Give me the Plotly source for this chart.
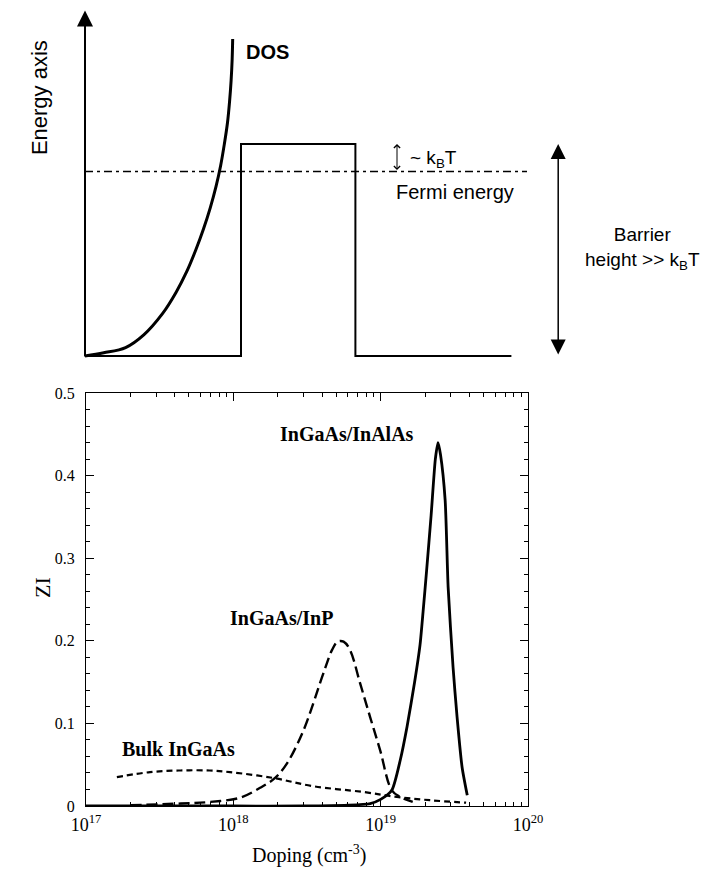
import plotly.graph_objects as go

# ---------------- bottom chart data ----------------
inalas_doping = [1.0e17, 1.0e18, 3.0e18, 6.0e18, 8.5e18, 1.0e19, 1.19e19, 1.36e19, 1.51e19, 1.70e19, 1.85e19,
                 1.94e19, 2.05e19, 2.20e19, 2.35e19, 2.45e19, 2.55e19, 2.74e19, 2.87e19,
                 3.10e19, 3.30e19, 3.57e19, 3.87e19]
inalas_zi = [0.0, 0.0, 0.0, 0.001, 0.003, 0.008, 0.019, 0.056, 0.096, 0.150, 0.195,
             0.235, 0.285, 0.352, 0.420, 0.440, 0.425, 0.370, 0.265,
             0.168, 0.108, 0.047, 0.013]

inp_doping = [2.0e17, 4.4e17, 7.0e17, 1.11e18, 1.52e18, 1.92e18, 2.32e18, 2.97e18, 3.5e18, 3.88e18, 4.3e18,
              4.68e18, 5.1e18, 5.6e18, 6.19e18, 7.24e18, 8.47e18, 9.9e18, 1.19e19, 1.36e19, 1.65e19]
inp_zi = [0.001, 0.003, 0.005, 0.010, 0.022, 0.034, 0.052, 0.090, 0.125, 0.149, 0.172,
          0.189, 0.199, 0.199, 0.189, 0.149, 0.108, 0.068, 0.019, 0.011, 0.005]

bulk_doping = [1.62e17, 2.72e17, 4.37e17, 6.9e17, 9.5e17, 1.86e18, 3.47e18, 7.6e18,
               1.29e19, 2.16e19, 3.8e19]
bulk_zi = [0.035, 0.041, 0.043, 0.043, 0.041, 0.034, 0.024, 0.017, 0.011, 0.007, 0.004]

x_major = [1e17, 1e18, 1e19, 1e20]
x_major_text = ["10<sup>17</sup>", "10<sup>18</sup>", "10<sup>19</sup>", "10<sup>20</sup>"]
x_minor = [float(m) * 10.0 ** e for e in (17, 18, 19) for m in range(2, 10)]
y_major = [0, 0.1, 0.2, 0.3, 0.4, 0.5]
y_major_text = ["0", "0.1", "0.2", "0.3", "0.4", "0.5"]
y_minor = [round(0.02 * i, 2) for i in range(26) if i % 5]

# ---------------- top diagram data (schematic units) ----------------
dos_e = [0.0, 0.15, 0.4, 1.0, 2.0, 3.0, 4.0, 5.0, 6.0, 7.0, 8.0, 9.0, 10.0, 11.0, 12.0, 13.0, 14.0, 14.95]
dos_x = [0.0, 0.36, 0.78, 1.13, 1.49, 1.75, 1.96, 2.13, 2.28, 2.41, 2.52, 2.61, 2.68, 2.74, 2.78, 2.81, 2.83, 2.84]
band_x = [0.0, 3.0, 3.0, 5.2, 5.2, 8.2]
band_e = [0.0, 0.0, 10.0, 10.0, 0.0, 0.0]
fermi_x = [0.0, 8.5]
fermi_e = [8.7, 8.7]
axis_top_e = 16.3
kbt_arrow_x = 6.0
barrier_arrow_x = 9.1

FONT_SANS = "Liberation Sans, Arial, sans-serif"
FONT_SERIF = "Liberation Serif, Times New Roman, serif"

W, H = 712, 871
OFF = 8  # page margin of the html body


def px_x(p):
    return (p - OFF) / W


def px_y(p):
    return 1 - (p - OFF) / H


fig = go.Figure()

# bottom curves
fig.add_trace(go.Scatter(x=bulk_doping, y=bulk_zi, mode="lines", line=dict(color="black", width=2.2, dash="6px,4px", shape="spline"),
                         xaxis="x", yaxis="y", showlegend=False, hoverinfo="skip"))
fig.add_trace(go.Scatter(x=inp_doping, y=inp_zi, mode="lines", line=dict(color="black", width=2.4, dash="11px,5px", shape="spline"),
                         xaxis="x", yaxis="y", showlegend=False, hoverinfo="skip"))
fig.add_trace(go.Scatter(x=inalas_doping, y=inalas_zi, mode="lines", line=dict(color="black", width=2.8, shape="spline", smoothing=0.6),
                         xaxis="x", yaxis="y", showlegend=False, hoverinfo="skip"))

# top diagram
fig.add_trace(go.Scatter(x=dos_x, y=dos_e, mode="lines", line=dict(color="black", width=3, shape="spline"),
                         xaxis="x2", yaxis="y2", showlegend=False, hoverinfo="skip"))
fig.add_trace(go.Scatter(x=band_x, y=band_e, mode="lines", line=dict(color="black", width=2),
                         xaxis="x2", yaxis="y2", showlegend=False, hoverinfo="skip"))
fig.add_trace(go.Scatter(x=fermi_x, y=fermi_e, mode="lines", line=dict(color="black", width=1.6, dash="8px,4px,3px,4px"),
                         xaxis="x2", yaxis="y2", showlegend=False, hoverinfo="skip"))

# top diagram geometry: units -> reference pixels
PXX, PXY = 52.0, 21.2
X0_PX, E0_PX = 85.0 - OFF, 356.0 - OFF
top_dom = 0.56
x2_range = [-X0_PX / PXX, (W - X0_PX) / PXX]
y2_range = [(E0_PX - H * (1 - top_dom)) / PXY, E0_PX / PXY]

annotations = [
    # energy axis arrow
    dict(x=0, y=axis_top_e, ax=0, ay=-0.1, xref="x2", yref="y2", axref="x2", ayref="y2",
         showarrow=True, arrowhead=2, arrowsize=1.6, arrowwidth=2, arrowcolor="black", text=""),
    # kBT arrow
    dict(x=kbt_arrow_x, y=10.0, ax=kbt_arrow_x, ay=fermi_e[0], xref="x2", yref="y2", axref="x2", ayref="y2",
         showarrow=True, arrowhead=4, arrowside="end+start", startarrowhead=4, arrowsize=1.2, startarrowsize=1.2,
         arrowwidth=1, arrowcolor="black", text=""),
    # barrier height arrow
    dict(x=barrier_arrow_x, y=10.0, ax=barrier_arrow_x, ay=0.0, xref="x2", yref="y2", axref="x2", ayref="y2",
         showarrow=True, arrowhead=2, arrowside="end+start", startarrowhead=2, arrowsize=2, startarrowsize=2,
         arrowwidth=1.5, arrowcolor="black", text=""),
    dict(x=-0.87, y=12.2, xref="x2", yref="y2", text="Energy axis", textangle=-90, showarrow=False,
         font=dict(family=FONT_SANS, size=22, color="black")),
    dict(x=3.5, y=14.34, xref="x2", yref="y2", text="<b>DOS</b>", showarrow=False,
         font=dict(family=FONT_SANS, size=20, color="black")),
    dict(x=6.22, y=9.3, xref="x2", yref="y2", text="~ k<sub>B</sub>T", showarrow=False, xanchor="left",
         font=dict(family=FONT_SANS, size=19, color="black")),
    dict(x=7.12, y=7.75, xref="x2", yref="y2", text="Fermi energy", showarrow=False,
         font=dict(family=FONT_SANS, size=20, color="black")),
    dict(x=10.72, y=5.07, xref="x2", yref="y2", text="Barrier<br>height >> k<sub>B</sub>T", showarrow=False,
         font=dict(family=FONT_SANS, size=19, color="black")),
    # bottom labels
    dict(x=18.77, y=0.45, xref="x", yref="y", text="<b>InGaAs/InAlAs</b>", showarrow=False,
         font=dict(family=FONT_SERIF, size=20, color="black")),
    dict(x=18.33, y=0.228, xref="x", yref="y", text="<b>InGaAs/InP</b>", showarrow=False,
         font=dict(family=FONT_SERIF, size=20, color="black")),
    dict(x=17.63, y=0.069, xref="x", yref="y", text="<b>Bulk InGaAs</b>", showarrow=False,
         font=dict(family=FONT_SERIF, size=20, color="black")),
    # bottom axis titles
    dict(x=px_x(28), y=px_y(600), xref="paper", yref="paper", text="ZI", textangle=-90, showarrow=False,
         font=dict(family=FONT_SERIF, size=22, color="black")),
    dict(x=px_x(309), y=px_y(869), xref="paper", yref="paper", text="Doping (cm<sup>-3</sup>)", showarrow=False,
         font=dict(family=FONT_SERIF, size=20, color="black")),
]

fig.update_layout(
    width=W, height=H,
    margin=dict(l=0, r=0, t=0, b=0),
    paper_bgcolor="white", plot_bgcolor="white",
    showlegend=False,
    annotations=annotations,
    xaxis=dict(type="log", domain=[px_x(86), px_x(528)], range=[17, 20], anchor="y",
               tickvals=x_major, ticktext=x_major_text, ticks="inside", ticklen=8, tickcolor="black",
               minor=dict(tickvals=x_minor, ticks="inside", ticklen=4, tickcolor="black"),
               showline=True, linecolor="black", linewidth=1.2, mirror="allticks", showgrid=False, zeroline=False,
               tickfont=dict(family=FONT_SERIF, size=18, color="black"), ticklabelstandoff=2,
               automargin=False),
    yaxis=dict(domain=[px_y(806), px_y(393)], range=[0, 0.5], anchor="x",
               tickvals=y_major, ticktext=y_major_text, ticks="inside", ticklen=8, tickcolor="black",
               minor=dict(tickvals=y_minor, ticks="inside", ticklen=4, tickcolor="black"),
               showline=True, linecolor="black", linewidth=1.2, mirror="allticks", showgrid=False, zeroline=False,
               tickfont=dict(family=FONT_SERIF, size=16, color="black"), ticklabelstandoff=7,
               automargin=False),
    xaxis2=dict(domain=[0, 1], range=x2_range, anchor="y2", visible=False),
    yaxis2=dict(domain=[top_dom, 1], range=y2_range, anchor="x2", visible=False),
)

fig.write_html("out.html")
